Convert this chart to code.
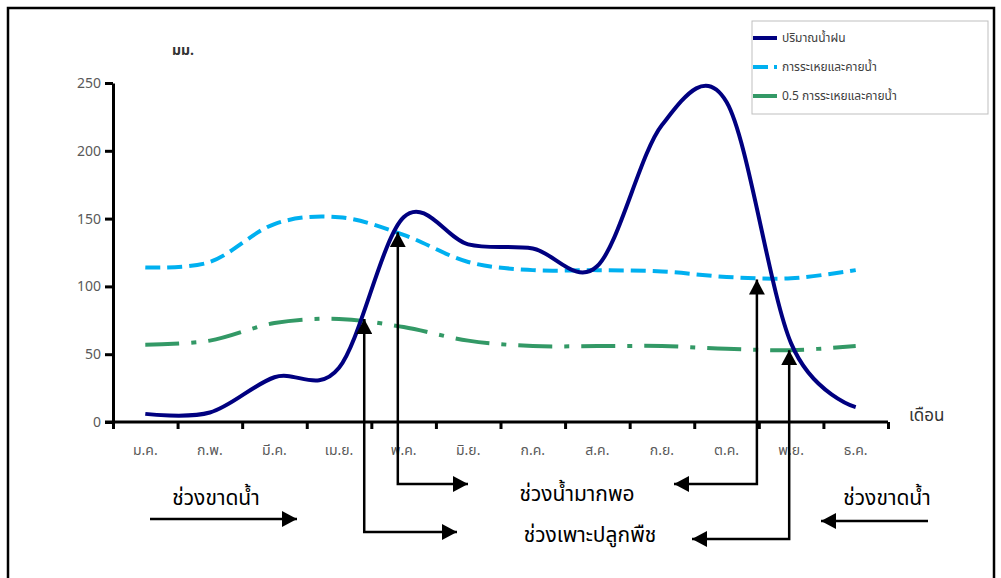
<!DOCTYPE html>
<html>
<head>
<meta charset="utf-8">
<script src="https://cdn.jsdelivr.net/npm/d3@7"></script>
<style>
  body { margin: 0; background: #fff; }
  text { font-family: Tahoma, 'Noto Sans Thai', 'Noto Sans', 'DejaVu Sans', sans-serif; }
</style>
</head>
<body>
<div id="chart"></div>
<script>
let months = ['ม.ค.', 'ก.พ.', 'มี.ค.', 'เม.ย.', 'พ.ค.', 'มิ.ย.', 'ก.ค.', 'ส.ค.', 'ก.ย.', 'ต.ค.', 'พ.ย.', 'ธ.ค.']
let rainfall = [6, 7, 33, 40, 151, 131, 128, 115, 219, 236, 58, 11]
let evapo = [114, 118, 146, 151, 138, 118, 112, 112, 111, 107, 106, 112]
let halfEvapo = [57, 60, 73, 76, 70, 60, 56, 56, 56, 54, 53, 56]
let yTicks = [0, 50, 100, 150, 200, 250]
let seriesNames = ['ปริมาณน้ำฝน', 'การระเหยและคายน้ำ', '0.5 การระเหยและคายน้ำ']

// where the arrows start: month position (0 = ม.ค.) and value on the curve
let arrowMonth = [3.39, 3.91, 9.47, 9.97]
let arrowValue = [76, 140, 105, 53]
let periodLabels = ['ช่วงขาดน้ำ', 'ช่วงน้ำมากพอ', 'ช่วงเพาะปลูกพืช', 'ช่วงขาดน้ำ']

let width = 1001
let height = 578

let svg = d3
  .select('#chart')
  .append('svg')
  .attr('width', width)
  .attr('height', height)

// page frame
svg
  .append('rect')
  .attr('x', 8)
  .attr('y', 8)
  .attr('width', 986)
  .attr('height', 620)
  .attr('fill', 'none')
  .attr('stroke', 'black')
  .attr('stroke-width', 2.5)

let xBand = d3
  .scaleBand()
  .domain(months)
  .range([113, 888])

let xEdge = d3
  .scaleLinear()
  .domain([0, 12])
  .range([113, 888])

let xMonth = i => xBand(months[0]) + (i + 0.5) * xBand.bandwidth()

let yScale = d3
  .scaleLinear()
  .domain([0, 250])
  .range([422, 83])

// y axis
let yAxis = svg
  .append('g')
  .attr('transform', 'translate(113,0)')
  .call(
    d3
      .axisLeft(yScale)
      .tickValues(yTicks)
      .tickSize(8)
      .tickSizeOuter(0)
      .tickPadding(4)
  )
yAxis.select('.domain').attr('stroke-width', 3)
yAxis.selectAll('.tick line').attr('stroke-width', 3)
yAxis
  .selectAll('.tick text')
  .attr('font-size', 14)
  .attr('fill', '#595959')

// x axis, ticks between months
let xAxis = svg
  .append('g')
  .attr('transform', 'translate(0,422)')
  .call(
    d3
      .axisBottom(xEdge)
      .ticks(12)
      .tickSize(7)
      .tickSizeOuter(0)
      .tickFormat('')
  )
xAxis
  .select('.domain')
  .attr('d', `M105,0H888`)
  .attr('stroke-width', 3)
xAxis.selectAll('.tick line').attr('stroke-width', 3)

let monthAxis = svg
  .append('g')
  .attr('transform', 'translate(0,422)')
  .call(
    d3
      .axisBottom(xBand)
      .tickSize(0)
      .tickPadding(23)
  )
monthAxis.select('.domain').remove()
monthAxis
  .selectAll('.tick text')
  .attr('font-size', 14)
  .attr('fill', '#595959')

// axis titles
svg
  .append('text')
  .text('มม.')
  .attr('x', 183)
  .attr('y', 55)
  .attr('font-size', 14)
  .attr('font-weight', 'bold')
  .attr('fill', '#333')
  .attr('text-anchor', 'middle')

svg
  .append('text')
  .text('เดือน')
  .attr('x', 909)
  .attr('y', 421)
  .attr('font-size', 17)
  .attr('fill', '#333')

// lines
let line = d3
  .line()
  .x((d, i) => xMonth(i))
  .y(d => yScale(d))
  .curve(d3.curveCardinal)

let series = [
  { values: halfEvapo, color: '#339966', dash: '34,12,5,12' },
  { values: evapo, color: '#00b0f0', dash: '15,7' },
  { values: rainfall, color: '#000080', dash: null }
]

svg
  .selectAll('.series')
  .data(series)
  .enter()
  .append('path')
  .attr('class', 'series')
  .attr('d', d => line(d.values))
  .attr('fill', 'none')
  .attr('stroke', d => d.color)
  .attr('stroke-width', 4)
  .attr('stroke-dasharray', d => d.dash)

// legend
let legend = svg.append('g').attr('transform', 'translate(752,21)')

legend
  .append('rect')
  .attr('width', 236)
  .attr('height', 93)
  .attr('fill', 'white')
  .attr('stroke', '#bfbfbf')

let legendItems = [
  { name: seriesNames[0], color: '#000080', dash: null },
  { name: seriesNames[1], color: '#00b0f0', dash: '15,6' },
  { name: seriesNames[2], color: '#339966', dash: null }
]

legend
  .selectAll('.legend-line')
  .data(legendItems)
  .enter()
  .append('line')
  .attr('x1', 1)
  .attr('x2', 25)
  .attr('y1', (d, i) => 17 + i * 29)
  .attr('y2', (d, i) => 17 + i * 29)
  .attr('stroke', d => d.color)
  .attr('stroke-width', 4)
  .attr('stroke-dasharray', d => d.dash)

legend
  .selectAll('.legend-text')
  .data(legendItems)
  .enter()
  .append('text')
  .text(d => d.name)
  .attr('x', 30)
  .attr('y', (d, i) => 17 + i * 29)
  .attr('dy', '0.35em')
  .attr('font-size', 12)
  .attr('fill', '#404040')

// arrows
let defs = svg.append('defs')
defs
  .append('marker')
  .attr('id', 'head')
  .attr('markerUnits', 'userSpaceOnUse')
  .attr('markerWidth', 16)
  .attr('markerHeight', 16)
  .attr('refX', 15)
  .attr('refY', 8)
  .attr('orient', 'auto')
  .append('path')
  .attr('d', 'M0,0L15,8L0,16Z')
  .attr('fill', 'black')

defs
  .append('marker')
  .attr('id', 'headStart')
  .attr('markerUnits', 'userSpaceOnUse')
  .attr('markerWidth', 16)
  .attr('markerHeight', 16)
  .attr('refX', 15)
  .attr('refY', 8)
  .attr('orient', 'auto-start-reverse')
  .append('path')
  .attr('d', 'M0,0L15,8L0,16Z')
  .attr('fill', 'black')

// bent arrows: from the label row up to the crossing point
let turnY = [532, 484, 484, 539]
let endX = [457, 468, 674, 692]

svg
  .selectAll('.bent-arrow')
  .data(arrowMonth)
  .enter()
  .append('path')
  .attr('class', 'bent-arrow')
  .attr('d', (d, i) => {
    let x = xMonth(d)
    return `M${endX[i]},${turnY[i]}H${x}V${yScale(arrowValue[i])}`
  })
  .attr('fill', 'none')
  .attr('stroke', 'black')
  .attr('stroke-width', 2.5)
  .attr('marker-end', 'url(#head)')
  .attr('marker-start', 'url(#headStart)')

// straight arrows for the dry periods
let dryArrows = [
  [150, 297, 519],
  [928, 821, 521]
]
svg
  .selectAll('.dry-arrow')
  .data(dryArrows)
  .enter()
  .append('line')
  .attr('x1', d => d[0])
  .attr('x2', d => d[1])
  .attr('y1', d => d[2])
  .attr('y2', d => d[2])
  .attr('stroke', 'black')
  .attr('stroke-width', 2.5)
  .attr('marker-end', 'url(#head)')

// period labels
let labelPos = [
  [216, 505],
  [577, 501],
  [590, 542],
  [887, 505]
]
svg
  .selectAll('.period-label')
  .data(periodLabels)
  .enter()
  .append('text')
  .text(d => d)
  .attr('x', (d, i) => labelPos[i][0])
  .attr('y', (d, i) => labelPos[i][1])
  .attr('text-anchor', 'middle')
  .attr('font-size', 21)
  .attr('fill', 'black')
</script>
</body>
</html>
